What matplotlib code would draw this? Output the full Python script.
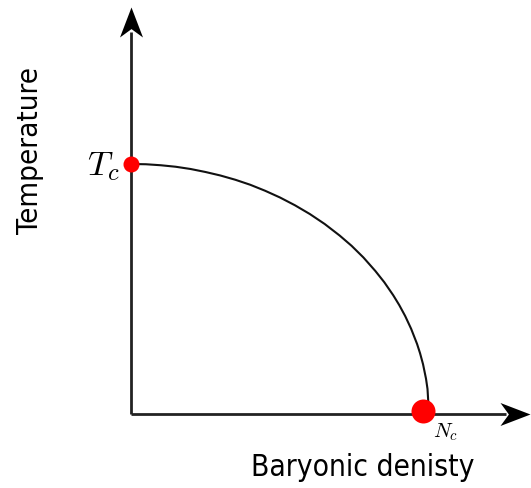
import matplotlib
matplotlib.use("Agg")
import matplotlib.pyplot as plt
from matplotlib.path import Path

plt.rcParams["mathtext.fontset"] = "cm"

# phase boundary (baryonic density / N_c, temperature / T_c)
density = [0.0, 0.05, 0.1, 0.15, 0.2, 0.25, 0.3, 0.35, 0.4, 0.45, 0.5, 0.55, 0.6, 0.65,
           0.7, 0.74, 0.78, 0.82, 0.85, 0.88, 0.9, 0.92, 0.94, 0.96, 0.97, 0.98, 0.99,
           0.995, 1.0]
temperature = [1.0, 0.999, 0.995, 0.989, 0.980, 0.968, 0.954, 0.937, 0.917, 0.893, 0.866,
               0.835, 0.80, 0.760, 0.714, 0.673, 0.626, 0.572, 0.527, 0.475, 0.436, 0.392,
               0.341, 0.280, 0.243, 0.199, 0.141, 0.100, 0.0]
critical_x = [0.0, 1.0]
critical_y = [1.0, 0.0]
labels = {"x": "Baryonic denisty", "y": "Temperature", "Tc": "$T_c$", "Nc": "$N_c$"}

W, H = 531, 488
fig = plt.figure(figsize=(W / 100, H / 100), dpi=100)
ox, oy = 131, 414
px_x, px_y = 298, 250
ax = fig.add_axes([ox / W, (H - oy) / H, px_x / W, px_y / H])
ax.set_xlim(0, 1)
ax.set_ylim(0, 1)
ax.axis("off")

ymax = (oy - 7) / px_y
xmax = (W - 1 - ox) / px_x

# axis lines
ax.plot([0, 0], [0, ymax - 0.1], color="#222222", lw=2.0, clip_on=False,
        solid_capstyle="butt")
ax.plot([0, xmax - 0.08], [0, 0], color="#222222", lw=2.0, clip_on=False,
        solid_capstyle="butt")

# stealth arrowheads as custom markers (tip at origin)
L, Wd, notch = 30.0, 23.0, 0.72
right = [(0, 0), (-L, Wd / 2), (-L * notch, 0), (-L, -Wd / 2), (0, 0)]
up = [(-y, x) for x, y in [(0, 0), (-L, -Wd / 2), (-L * notch, 0), (-L, Wd / 2), (0, 0)]]
codes = [Path.MOVETO, Path.LINETO, Path.LINETO, Path.LINETO, Path.CLOSEPOLY]
ms = 2 * L * 0.72
ax.plot([xmax], [0], marker=Path(right, codes), markersize=ms, color="black",
        markeredgewidth=0, clip_on=False)
ax.plot([0], [ymax], marker=Path(up, codes), markersize=ms, color="black",
        markeredgewidth=0, clip_on=False)

# phase boundary
ax.plot(density, temperature, color="#111111", lw=1.5, clip_on=False, zorder=3,
        solid_joinstyle="round")

# critical points
ax.scatter(critical_x[:1], critical_y[:1], s=16 ** 2 * 0.72 ** 2, color="red", zorder=4,
           clip_on=False, linewidths=0)
ax.scatter([critical_x[1] - 0.02], [critical_y[1] + 0.012], s=24 ** 2 * 0.72 ** 2,
           color="red", zorder=4, clip_on=False, linewidths=0)

# labels
ax.text(-0.093, 0.99, labels["Tc"], fontsize=25, ha="center", va="center")
ax.text(1.054, -0.072, labels["Nc"], fontsize=15, ha="center", va="center")
fig.text(363 / W, 1 - 467 / H, labels["x"], fontsize=21.4, ha="center", va="center",
         family="DejaVu Sans", fontstretch="condensed")
fig.text(30 / W, 1 - 151 / H, labels["y"], fontsize=21.2, ha="center", va="center",
         rotation=90, family="DejaVu Sans", fontstretch="condensed")

fig.savefig("out.png", dpi=100)
